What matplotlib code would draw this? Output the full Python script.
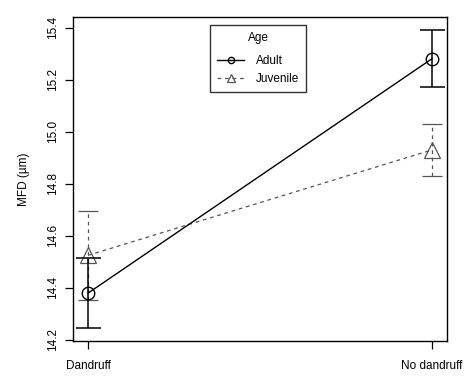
import matplotlib
matplotlib.use("Agg")
import matplotlib.pyplot as plt
import numpy as np

plt.rcParams['font.family'] = ['Liberation Sans', 'DejaVu Sans']

groups = ["Dandruff", "No dandruff"]
adult_mean = [14.38, 15.28]
adult_err = [0.135, 0.11]
juv_mean = [14.525, 14.93]
juv_err = [0.17, 0.10]
yticks = [14.2, 14.4, 14.6, 14.8, 15.0, 15.2, 15.4]

fig = plt.figure(figsize=(4.74, 3.81), dpi=100)
ax = fig.add_axes([0.154, 0.105, 0.789, 0.850])

x = np.arange(1, len(groups) + 1)
grey = '#555555'

# juvenile (dashed grey)
ax.errorbar(x, juv_mean, yerr=juv_err, fmt='none', ecolor=grey, elinewidth=0.9,
            capsize=7, capthick=0.9, linestyle='--')
for c in ax.containers[-1].lines[2]:
    c.set_linestyle((0, (3, 3)))
ax.plot(x, juv_mean, color=grey, lw=0.9, ls=(0, (3, 3)), marker='^', ms=11,
        mfc='none', mec=grey, mew=0.9, label='Juvenile')

# adult (solid black)
ax.errorbar(x, adult_mean, yerr=adult_err, fmt='none', ecolor='black', elinewidth=1.1,
            capsize=9, capthick=1.1)
ax.plot(x, adult_mean, color='black', lw=1.0, marker='o', ms=9,
        mfc='none', mec='black', mew=1.0, label='Adult')

ax.set_xlim(0.956, 2.044)
ax.set_ylim(14.196, 15.44)
ax.set_xticks(x)
ax.set_xticklabels(groups, fontsize=8.5)
ax.set_yticks(yticks)
ax.set_yticklabels([f"{v:.1f}" for v in yticks], rotation=90, va='center', fontsize=8.5)
ax.tick_params(direction='out', length=6, width=0.9, pad=4)
ax.tick_params(axis='x', pad=8)
ax.set_ylabel("MFD (µm)", fontsize=8.5, labelpad=12)
for s in ax.spines.values():
    s.set_linewidth(1.0)

h, l = ax.get_legend_handles_labels()
leg = ax.legend(h[::-1], l[::-1], title='Age', loc='upper left',
                bbox_to_anchor=(0.366, 0.975), fontsize=8.5, title_fontsize=8.5,
                frameon=True, fancybox=False, edgecolor='black', markerscale=0.5,
                handlelength=2.3, handletextpad=1.0, borderpad=0.6,
                borderaxespad=0, labelspacing=0.45)
leg.get_frame().set_linewidth(1.0)
# extra gap between title and entries, like the R legend
leg._legend_box.sep = 8

fig.savefig("out.png", dpi=100)
